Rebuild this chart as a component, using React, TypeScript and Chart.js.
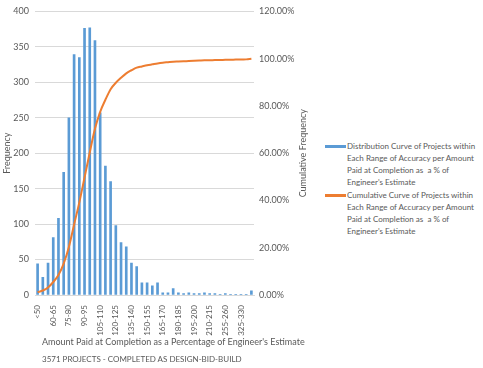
import React, { useEffect, useRef } from "react";
import { Chart, registerables } from "chart.js";

Chart.register(...registerables);

const categories: string[] = [
  "<50", "50-55", "55-60", "60-65", "65-70", "70-75", "75-80", "80-85", "85-90", "90-95",
  "95-100", "100-105", "105-110", "110-115", "115-120", "120-125", "125-130", "130-135", "135-140", "140-145",
  "145-150", "150-155", "155-160", "160-165", "165-170", "170-175", "175-180", "180-185", "185-190", "190-195",
  "195-200", "200-205", "205-210", "210-215", "225-230", "240-245", "255-260", "270-275", "300-305", "325-330",
  "345-350", ">350",
];

const frequency: number[] = [
  44, 25, 45, 81, 108, 173, 250, 339, 335, 376,
  377, 359, 257, 182, 160, 98, 74, 68, 45, 40,
  17, 17, 13, 17, 3, 3, 9, 3, 2, 3,
  2, 2, 3, 2, 2, 1, 2, 1, 1, 1,
  1, 6,
];

const cumulative: number[] = [
  1.2, 1.9, 3.2, 5.5, 8.5, 13.3, 20.3, 29.8, 39.2, 49.7,
  60.3, 70.3, 77.5, 82.6, 87.1, 89.8, 91.9, 93.8, 95.1, 96.2,
  96.7, 97.2, 97.6, 98.0, 98.3, 98.5, 98.7, 98.8, 98.9, 99.0,
  99.1, 99.2, 99.3, 99.3, 99.4, 99.4, 99.5, 99.5, 99.6, 99.6,
  99.7, 100.0,
];

const leftTicksMax = 400;
const rightTicksMax = 120;

const seriesNames: string[] = [
  "Distribution Curve of Projects within Each Range of Accuracy per Amount Paid at Completion as  a % of Engineer's Estimate",
  "Cumulative Curve of Projects within Each Range of Accuracy per Amount Paid at Completion as  a % of Engineer's Estimate",
];

const legendLines: string[][] = [
  ["Distribution Curve of Projects within", "Each Range of Accuracy per Amount", "Paid at Completion as\u00a0 a % of", "Engineer's Estimate"],
  ["Cumulative Curve of Projects within", "Each Range of Accuracy per Amount", "Paid at Completion as\u00a0 a % of", "Engineer's Estimate"],
];

const BLUE = "#5B9BD5";
const ORANGE = "#ED7D31";
const TEXT = "#595959";
const GRID = "#D9D9D9";
const FONT = "Lato, 'Open Sans', sans-serif";

const rightTitlePlugin = {
  id: "rightTitle",
  afterDraw(chart: any) {
    const ctx = chart.ctx;
    const area = chart.chartArea;
    ctx.save();
    ctx.fillStyle = TEXT;
    ctx.font = `9px ${FONT}`;
    ctx.textAlign = "center";
    ctx.textBaseline = "middle";
    ctx.translate(303, (area.top + area.bottom) / 2);
    ctx.rotate(-Math.PI / 2);
    ctx.fillText("Cumulative Frequency", 0, 0);
    ctx.restore();
  },
};

export default function App() {
  const ref = useRef<HTMLCanvasElement | null>(null);

  useEffect(() => {
    document.body.style.margin = "0";
    if (!ref.current) return;
    const chart = new Chart(ref.current, {
      type: "bar",
      data: {
        labels: categories,
        datasets: [
          {
            type: "line",
            label: seriesNames[1],
            data: cumulative,
            yAxisID: "y1",
            borderColor: ORANGE,
            backgroundColor: ORANGE,
            borderWidth: 2,
            pointRadius: 0,
            tension: 0.4,
            cubicInterpolationMode: "monotone",
            order: 0,
          } as any,
          {
            type: "bar",
            label: seriesNames[0],
            data: frequency,
            yAxisID: "y",
            backgroundColor: BLUE,
            barThickness: 2,
            order: 1,
          } as any,
        ],
      },
      options: {
        responsive: false,
        animation: false,
        layout: { padding: 0 },
        plugins: {
          legend: { display: false },
          tooltip: { enabled: false },
        },
        scales: {
          x: {
            grid: { display: false },
            border: { color: GRID },
            ticks: {
              color: TEXT,
              font: { family: FONT, size: 8 },
              autoSkip: false,
              maxRotation: 90,
              minRotation: 90,
              padding: 2,
              callback: (_v: any, i: number) => (i % 3 === 0 ? categories[i] : ""),
            },
            afterFit: (s: any) => {
              s.height = 73;
            },
          },
          y: {
            position: "left",
            min: 0,
            max: leftTicksMax,
            ticks: { stepSize: 50, color: TEXT, font: { family: FONT, size: 9 }, padding: 6 },
            grid: { color: GRID, drawTicks: false },
            border: { display: false },
            title: { display: true, text: "Frequency", color: TEXT, font: { family: FONT, size: 9 }, padding: { top: 2, bottom: 2 } },
            afterFit: (s: any) => {
              s.width = 35;
            },
          },
          y1: {
            position: "right",
            min: 0,
            max: rightTicksMax,
            ticks: {
              stepSize: 20,
              color: TEXT,
              font: { family: FONT, size: 9 },
              padding: 5,
              callback: (v: any) => Number(v).toFixed(2) + "%",
            },
            grid: { display: false, drawTicks: false },
            border: { display: false },
            afterFit: (s: any) => {
              s.width = 58;
            },
          },
        },
      },
      plugins: [rightTitlePlugin],
    });
    return () => chart.destroy();
  }, []);

  const textStyle: React.CSSProperties = { position: "absolute", color: TEXT, fontFamily: FONT, whiteSpace: "nowrap" };

  return (
    <div style={{ position: "relative", width: 483, height: 368, background: "#fff", overflow: "hidden" }}>
      <canvas ref={ref} width={312} height={368} style={{ position: "absolute", left: 0, top: 0 }} />
      <div style={{ ...textStyle, left: 42, top: 336, fontSize: 9 }}>
        Amount Paid at Completion as a Percentage of Engineer's Estimate
      </div>
      <div style={{ ...textStyle, left: 42, top: 354, fontSize: 8 }}>3571 PROJECTS - COMPLETED AS DESIGN-BID-BUILD</div>
      {legendLines.map((lines, k) => (
        <div key={k} style={{ position: "absolute", left: 325, top: 140 + k * 49, display: "flex" }}>
          <div style={{ width: 21, height: 3, marginTop: 5, background: k === 0 ? BLUE : ORANGE }} />
          <div style={{ marginLeft: 1, color: TEXT, fontFamily: FONT, fontSize: 8, lineHeight: "12px", whiteSpace: "nowrap" }}>
            {lines.map((l, j) => (
              <div key={j}>{l}</div>
            ))}
          </div>
        </div>
      ))}
    </div>
  );
}
